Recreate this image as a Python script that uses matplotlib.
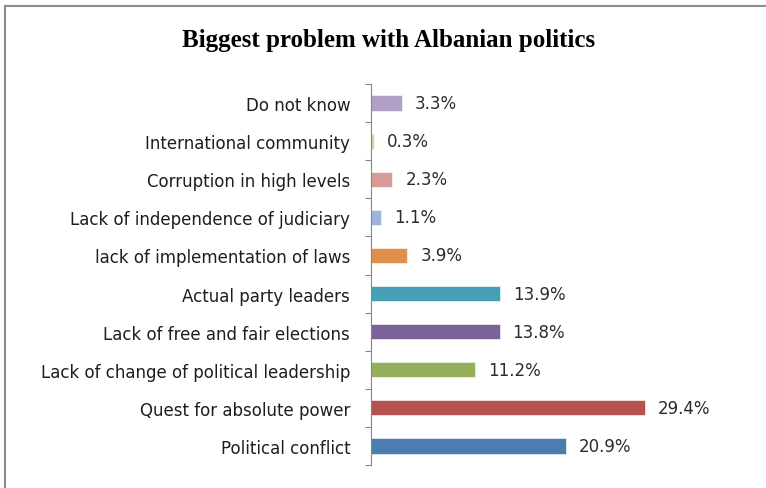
import numpy as np
import matplotlib.pyplot as plt
from matplotlib.lines import Line2D

# survey answers, bottom to top as they appear on the axis
categories = [
    "Political conflict",
    "Quest for absolute power",
    "Lack of change of political leadership",
    "Lack of free and fair elections",
    "Actual party leaders",
    "lack of implementation of laws",
    "Lack of independence of judiciary",
    "Corruption in high levels",
    "International community",
    "Do not know",
]
shares = [20.9, 29.4, 11.2, 13.8, 13.9, 3.9, 1.1, 2.3, 0.3, 3.3]
colors = ["#4C7DB0", "#B5524F", "#96AF5A", "#7C6299", "#46A0B5",
          "#E0904A", "#9AB4DC", "#D89A98", "#C4DCA0", "#B0A0C8"]

W, H = 766, 489
fig = plt.figure(figsize=(W / 100, H / 100), dpi=100)
ax = fig.add_axes([371 / W, 1 - 466 / H, (697 - 371) / W, (466 - 85) / H])

y = np.arange(len(categories))
ax.barh(y, shares, height=0.4, color=colors, edgecolor="white", linewidth=0.4)

for yi, v in zip(y, shares):
    ax.text(v + 1.4, yi, f"{v}%", va="center", ha="left",
            fontsize=12, family="DejaVu Sans", color="#2b2b2b")

ax.set_xlim(0, 35)
ax.set_ylim(-0.5, len(categories) - 0.5)
ax.set_xticks([])
ax.set_yticks(y)
ax.set_yticklabels(categories, family="DejaVu Sans", fontsize=12, color="#1e1e1e")
ax.tick_params(axis="y", which="major", length=0, pad=15)
ax.set_yticks(np.arange(-0.5, len(categories)), minor=True)
ax.tick_params(axis="y", which="minor", length=4, width=0.8, color="#868686")

for s in ["top", "right", "bottom"]:
    ax.spines[s].set_visible(False)
ax.spines["left"].set_color("#868686")
ax.spines["left"].set_linewidth(0.8)

fig.text(389 / W, 1 - 40 / H, "Biggest problem with Albanian politics",
         ha="center", va="center", fontsize=18, fontweight="bold",
         family="Liberation Serif")

# chart frame (only the top and left edges fall inside the image)
fig.add_artist(Line2D([4.5 / W, 4.5 / W], [0, 1 - 7 / H], transform=fig.transFigure,
                      color="#8c8c8c", linewidth=1.5))
fig.add_artist(Line2D([4.5 / W, 1], [1 - 7 / H, 1 - 7 / H], transform=fig.transFigure,
                      color="#8c8c8c", linewidth=1.5))

fig.savefig("out.png", dpi=100)
